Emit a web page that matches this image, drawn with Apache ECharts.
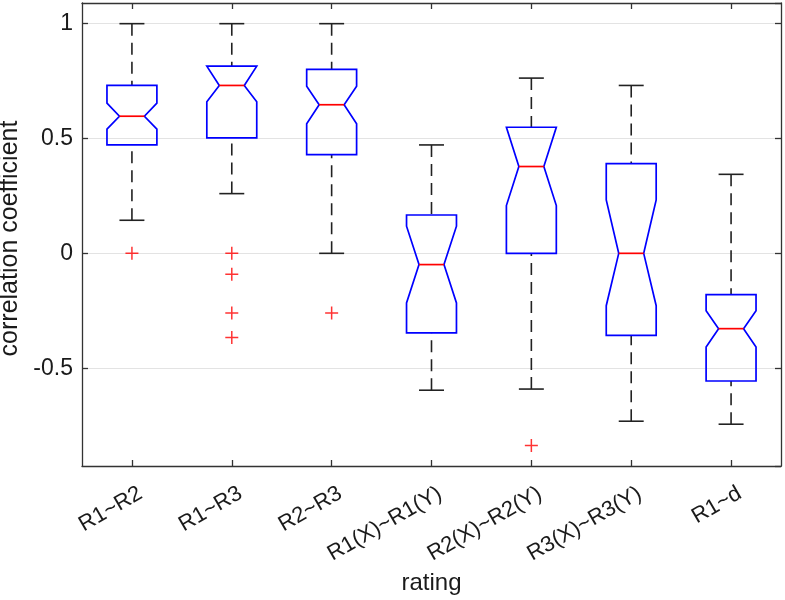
<!DOCTYPE html>
<html>
<head>
<meta charset="utf-8">
<script src="https://cdn.jsdelivr.net/npm/echarts@6/dist/echarts.min.js"></script>
<style>
html,body{margin:0;padding:0;background:#fff;}
#chart{width:785px;height:600px;}
</style>
</head>
<body>
<div id="chart"></div>
<script>
// ---- data ----
const categories = ['R1~R2','R1~R3','R2~R3','R1(X)~R1(Y)','R2(X)~R2(Y)','R3(X)~R3(Y)','R1~d'];
const q1       = [0.472, 0.503, 0.430, -0.346, 0.000, -0.357, -0.556];
const q3       = [0.731, 0.815, 0.801,  0.167, 0.549,  0.391, -0.180];
const medians  = [0.597, 0.731, 0.647, -0.049, 0.378,  0.000, -0.328];
const notchLo  = [0.541, 0.660, 0.564, -0.216, 0.208, -0.228, -0.408];
const notchHi  = [0.654, 0.820, 0.728,  0.118, 0.550,  0.233, -0.250];
const whiskLo  = [0.144, 0.260, 0.000, -0.596, -0.591, -0.731, -0.744];
const whiskHi  = [1.000, 1.000, 1.000,  0.472, 0.763,  0.731,  0.344];
const outliers = [[0, 0.0], [1, 0.0], [1, -0.091], [1, -0.260], [1, -0.367], [2, -0.260], [4, -0.837]];
const yTickLabels = ['-0.5', '0', '0.5', '1'];
const xTitle = 'rating';
const yTitle = 'correlation coefficient';

const boxData = categories.map((c, i) => [i, q1[i], q3[i], medians[i], notchLo[i], notchHi[i], whiskLo[i], whiskHi[i]]);

const FONT = 'Liberation Sans, Arial, Helvetica, sans-serif';
const TXT = '#1a1a1a';
const AXC = '#333333';
const YMIN = -0.926, YMAX = 1.09;

function renderItem(params, api) {
  const i = api.value(0);
  const vq1 = api.value(1), vq3 = api.value(2), med = api.value(3);
  const nlo = Math.max(api.value(4), vq1), nhi = Math.min(api.value(5), vq3);
  const wlo = api.value(6), whi = api.value(7);
  const band = api.size([1, 0])[0];
  const bw = band * 0.25, nw = band * 0.125, cw = band * 0.125;
  const x = api.coord([i, med])[0];
  const y = v => api.coord([i, v])[1];
  const wStyle = {stroke: '#222', lineWidth: 1.6, lineDash: [12, 7]};
  const cStyle = {stroke: '#222', lineWidth: 1.6};
  const children = [];
  if (whi > vq3) {
    children.push({type: 'line', shape: {x1: x, y1: y(whi), x2: x, y2: y(vq3)}, style: wStyle});
  }
  children.push({type: 'line', shape: {x1: x - cw, y1: y(whi), x2: x + cw, y2: y(whi)}, style: cStyle});
  if (wlo < vq1) {
    children.push({type: 'line', shape: {x1: x, y1: y(wlo), x2: x, y2: y(vq1)}, style: wStyle});
  }
  children.push({type: 'line', shape: {x1: x - cw, y1: y(wlo), x2: x + cw, y2: y(wlo)}, style: cStyle});
  const pts = [
    [x - bw, y(vq1)], [x - bw, y(nlo)], [x - nw, y(med)], [x - bw, y(nhi)], [x - bw, y(vq3)],
    [x + bw, y(vq3)], [x + bw, y(nhi)], [x + nw, y(med)], [x + bw, y(nlo)], [x + bw, y(vq1)]
  ];
  children.push({type: 'polygon', shape: {points: pts}, style: {fill: 'none', stroke: '#0000ff', lineWidth: 1.7}});
  children.push({type: 'line', shape: {x1: x - nw, y1: y(med), x2: x + nw, y2: y(med)}, style: {stroke: '#ff0000', lineWidth: 1.7}});
  return {type: 'group', children};
}

const chart = echarts.init(document.getElementById('chart'), null, {renderer: 'canvas'});
chart.setOption({
  animation: false,
  backgroundColor: '#fff',
  grid: {left: 82, right: 4, top: 3, bottom: 134, containLabel: false, outerBoundsMode: 'none'},
  xAxis: [{
    type: 'category', data: categories, boundaryGap: true, position: 'bottom',
    name: xTitle, nameLocation: 'middle', nameGap: 115,
    nameTextStyle: {fontSize: 24, color: TXT, fontFamily: FONT, verticalAlign: 'middle'},
    axisLine: {show: true, onZero: false, lineStyle: {color: AXC, width: 1.3}},
    axisTick: {show: true, inside: true, length: 6, alignWithLabel: true, lineStyle: {color: AXC, width: 1.3}},
    axisLabel: {show: true, interval: 0, rotate: 30, fontSize: 22, color: TXT, fontFamily: FONT, margin: 31, padding: [0, -10, 0, 0]},
    splitLine: {show: false}
  }, {
    type: 'category', data: categories, boundaryGap: true, position: 'top',
    axisLine: {show: true, onZero: false, lineStyle: {color: AXC, width: 1.3}},
    axisTick: {show: true, inside: true, length: 6, alignWithLabel: true, lineStyle: {color: AXC, width: 1.3}},
    axisLabel: {show: false}, splitLine: {show: false}
  }],
  yAxis: [{
    type: 'value', min: YMIN, max: YMAX, splitNumber: 4, minInterval: 0.5, maxInterval: 0.5, position: 'left',
    name: yTitle, nameLocation: 'middle', nameGap: 66,
    nameTextStyle: {fontSize: 25, color: TXT, fontFamily: FONT, verticalAlign: 'middle', padding: [0, 8, 0, 0]},
    axisLine: {show: true, onZero: false, lineStyle: {color: AXC, width: 1.3}},
    axisTick: {show: true, inside: true, length: 6, lineStyle: {color: AXC, width: 1.3}},
    axisLabel: {
      show: true, fontSize: 23, color: TXT, fontFamily: FONT, margin: 9,
      showMinLabel: false, showMaxLabel: false,
      formatter: v => {
        const s = String(Math.round(v * 10) / 10);
        return yTickLabels.indexOf(s) >= 0 ? s : '';
      }
    },
    splitLine: {show: true, lineStyle: {color: '#e3e3e3', width: 1.2}}
  }, {
    type: 'value', min: YMIN, max: YMAX, splitNumber: 4, minInterval: 0.5, maxInterval: 0.5, position: 'right',
    axisLine: {show: true, onZero: false, lineStyle: {color: AXC, width: 1.3}},
    axisTick: {show: true, inside: true, length: 6, lineStyle: {color: AXC, width: 1.3}},
    axisLabel: {show: false}, splitLine: {show: false}
  }],
  series: [{
    type: 'custom', xAxisIndex: 0, yAxisIndex: 0,
    renderItem: renderItem,
    encode: {x: 0, y: [1, 2, 3, 4, 5, 6, 7]},
    data: boxData, z: 3
  }, {
    type: 'scatter', xAxisIndex: 0, yAxisIndex: 0,
    data: outliers,
    symbol: 'path://M6,0L6,12M0,6L12,6',
    symbolSize: 13,
    itemStyle: {color: 'rgba(0,0,0,0)', borderColor: '#ff0000', borderWidth: 1.5},
    z: 4
  }]
});
</script>
</body>
</html>
